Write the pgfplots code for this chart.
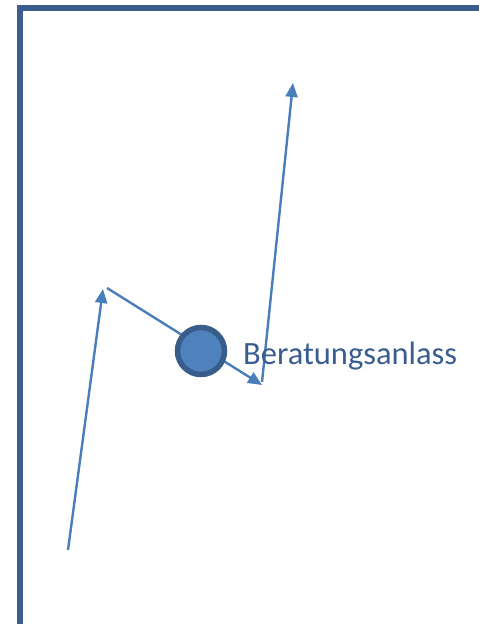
\documentclass[border=0pt]{standalone}
\usepackage{pgfplots}
\pgfplotsset{compat=1.18}
\usetikzlibrary{arrows.meta}
\usepackage{fontspec}
\setmainfont{Carlito}
\definecolor{border}{HTML}{3B5E8E}
\definecolor{arrowc}{HTML}{4A7EBB}
\definecolor{circfill}{HTML}{4F81BD}
\definecolor{circline}{HTML}{385D8A}
\definecolor{txt}{HTML}{3A5D8F}
\begin{document}
\begin{tikzpicture}
\begin{axis}[
  scale only axis, width=479bp, height=624bp,
  xmin=0, xmax=479, ymin=0, ymax=624, y dir=reverse,
  hide axis, axis line style={draw=none},
]
% border
\addplot[border, line width=6bp, line join=miter] coordinates {(20,640) (20,8.5) (490,8.5)};
% arrows
\addplot[arrowc, line width=2.4bp, -{Triangle[length=14bp,width=12bp]}] coordinates {(68,550) (103,289)};
\addplot[arrowc, line width=2.4bp, -{Triangle[length=14bp,width=12bp]}] coordinates {(107,288) (262,385)};
\addplot[arrowc, line width=2.4bp, -{Triangle[length=14bp,width=12bp]}] coordinates {(262,382) (293,83)};
% circle
\addplot[only marks, mark=*, mark size=23.5bp, mark options={fill=circfill, draw=circline, line width=5.5bp}] coordinates {(201,351)};
\node[anchor=base west, inner sep=0pt, text=txt, font=\fontsize{32.5bp}{38bp}\selectfont] at (axis cs:243,364) {Beratungsanlass};
\end{axis}
\path (current axis.south west) rectangle (current axis.north east);
\end{tikzpicture}
\end{document}
